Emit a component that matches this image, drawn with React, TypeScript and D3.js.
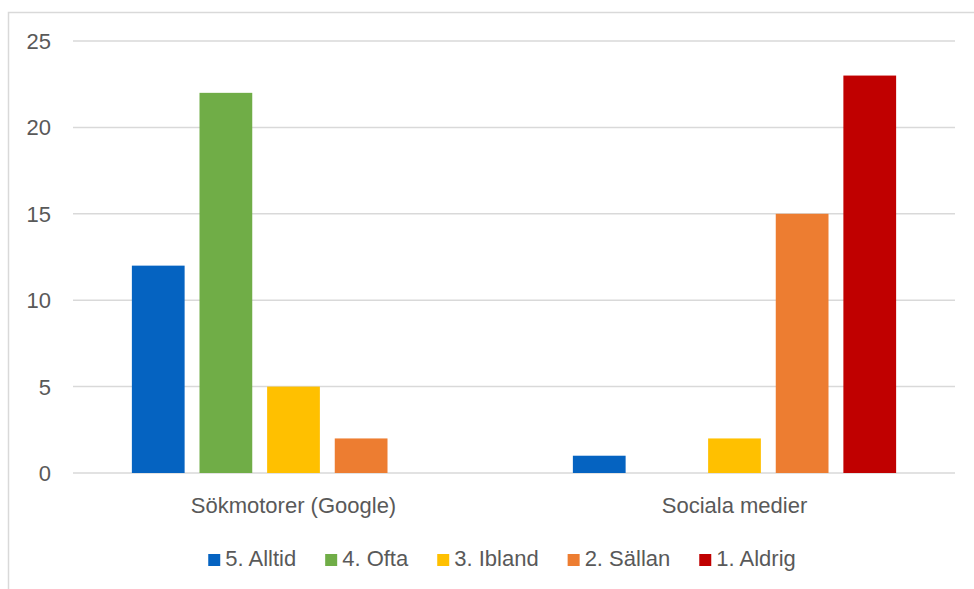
import React, { useEffect, useRef } from "react";
import * as d3 from "d3";

const categories = ["Sökmotorer (Google)", "Sociala medier"];
const seriesNames = ["5. Alltid", "4. Ofta", "3. Ibland", "2. Sällan", "1. Aldrig"];
const seriesColors = ["#0563C1", "#70AD47", "#FFC000", "#ED7D31", "#C00000"];
const alltid = [12, 1];
const ofta = [22, 0];
const ibland = [5, 2];
const sallan = [2, 15];
const aldrig = [0, 23];
const yTicks = [0, 5, 10, 15, 20, 25];

const seriesValues = [alltid, ofta, ibland, sallan, aldrig];

const W = 974;
const H = 589;
const FONT = "'Liberation Sans', Arial, sans-serif";
const TEXT = "#595959";

export default function App() {
  const ref = useRef<SVGSVGElement | null>(null);

  useEffect(() => {
    const svg = d3.select(ref.current);
    svg.selectAll("*").remove();

    const left = 73, right = 955, top = 41, bottom = 473;
    const x0 = d3.scaleBand<string>().domain(categories).range([left, right]).paddingInner(0).paddingOuter(0);
    const bw = x0.bandwidth();
    const groupPad = bw * 0.1335;
    const x1 = d3.scaleBand<string>().domain(seriesNames).range([groupPad, bw - groupPad]).paddingInner(0.22).paddingOuter(0);
    const y = d3.scaleLinear().domain([0, 25]).range([bottom, top]);

    // chart border
    svg.append("rect")
      .attr("x", 8.5).attr("y", 12.5).attr("width", 1000).attr("height", 620)
      .attr("fill", "white").attr("stroke", "#d9d9d9").attr("stroke-width", 1.5);

    // gridlines
    svg.append("g").selectAll("line").data(yTicks).join("line")
      .attr("x1", left).attr("x2", right)
      .attr("y1", (d) => y(d)).attr("y2", (d) => y(d))
      .attr("stroke", "#d9d9d9").attr("stroke-width", 1.5);

    // y labels
    svg.append("g").selectAll("text").data(yTicks).join("text")
      .attr("x", 51).attr("y", (d) => y(d)).attr("dy", "0.36em")
      .attr("text-anchor", "end").attr("font-family", FONT).attr("font-size", 22)
      .attr("fill", TEXT).text((d) => String(d));

    // bars
    const gBars = svg.append("g");
    seriesNames.forEach((s, si) => {
      gBars.append("g").selectAll("rect")
        .data(categories.map((c, ci) => ({ c, v: seriesValues[si][ci] })).filter((d) => d.v > 0))
        .join("rect")
        .attr("x", (d) => (x0(d.c) as number) + (x1(s) as number))
        .attr("width", x1.bandwidth())
        .attr("y", (d) => y(d.v))
        .attr("height", (d) => y(0) - y(d.v))
        .attr("fill", seriesColors[si]);
    });

    // category labels
    svg.append("g").selectAll("text").data(categories).join("text")
      .attr("x", (d) => (x0(d) as number) + bw / 2).attr("y", 513)
      .attr("text-anchor", "middle").attr("font-family", FONT).attr("font-size", 22)
      .attr("fill", TEXT).text((d) => d);

    // legend
    const legend = svg.append("g");
    const sq = 12, gapSq = 5, gapItem = 29;
    const items = seriesNames.map((s, i) => {
      const g = legend.append("g");
      g.append("rect").attr("x", 0).attr("y", 554).attr("width", sq).attr("height", sq).attr("fill", seriesColors[i]);
      const t = g.append("text").attr("x", sq + gapSq).attr("y", 566)
        .attr("font-family", FONT).attr("font-size", 22).attr("fill", TEXT).text(s);
      const w = (t.node() as SVGTextElement).getComputedTextLength();
      return { g, w: sq + gapSq + w };
    });
    const total = d3.sum(items, (d) => d.w) + gapItem * (items.length - 1);
    let cx = 502 - total / 2;
    items.forEach((it) => {
      it.g.attr("transform", `translate(${cx},0)`);
      cx += it.w + gapItem;
    });
  }, []);

  return (
    <svg
      ref={ref}
      width={W}
      height={H}
      style={{ position: "absolute", left: 0, top: 0, background: "white" }}
    />
  );
}
